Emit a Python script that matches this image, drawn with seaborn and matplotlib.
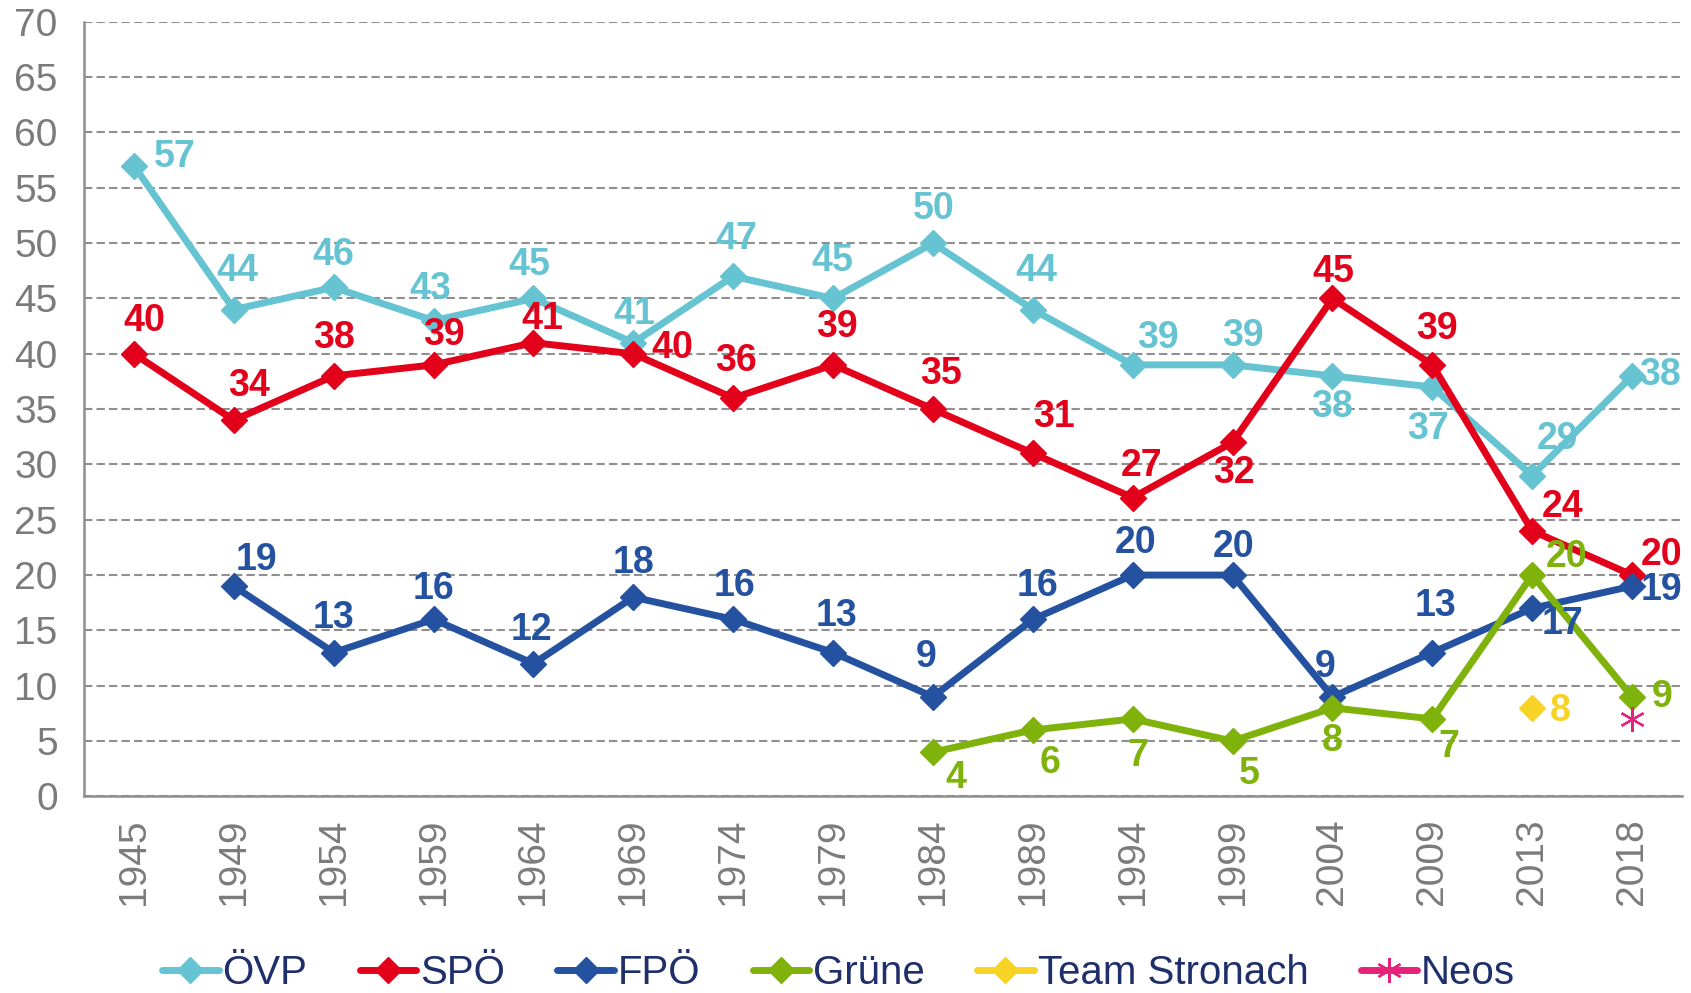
import numpy as np
import pandas as pd
import matplotlib
matplotlib.use("Agg")
import matplotlib.pyplot as plt
from matplotlib.ticker import FixedLocator, MultipleLocator
import seaborn as sns

# --- Daten (Nationalratswahlen, Stimmenanteile in %) ---
jahre = ["1945", "1949", "1954", "1959", "1964", "1969", "1974", "1979",
         "1984", "1989", "1994", "1999", "2004", "2009", "2013", "2018"]
oevp = [57, 44, 46, 43, 45, 41, 47, 45, 50, 44, 39, 39, 38, 37, 29, 38]
spoe = [40, 34, 38, 39, 41, 40, 36, 39, 35, 31, 27, 32, 45, 39, 24, 20]
fpoe = [np.nan, 19, 13, 16, 12, 18, 16, 13, 9, 16, 20, 20, 9, 13, 17, 19]
gruene = [np.nan] * 8 + [4, 6, 7, 5, 8, 7, 20, 9]
stronach = [np.nan] * 14 + [8, np.nan]
neos = [np.nan] * 15 + [7]

parteien = ["ÖVP", "SPÖ", "FPÖ", "Grüne", "Team Stronach", "Neos"]
werte = [oevp, spoe, fpoe, gruene, stronach, neos]
farben = ["#66C4D2", "#E2001A", "#2452A0", "#80B20C", "#F7D325", "#E5237A"]

# Label-Versatz (px in Referenzansicht, dy nach unten positiv)
versatz = {
    "ÖVP": [(38, -8), (3, -36), (0, -30), (-3, -29), (-4, -31), (1, -27), (3, -35), (-1, -35),
            (1, -32), (3, -36), (23, -25), (10, -27), (0, 29), (-4, 39), (23, -34), (26, -1)],
    "SPÖ": [(10, -30), (14, -32), (0, -35), (10, -28), (8, -22), (36, -5), (3, -34), (4, -35),
            (7, -33), (20, -34), (8, -29), (1, 28), (1, -25), (4, -33), (28, -22), (27, -19)],
    "FPÖ": [None, (21, -24), (0, -32), (0, -28), (-2, -31), (0, -32), (1, -31), (3, -34),
            (-6, -37), (4, -31), (3, -30), (1, -26), (-7, -28), (3, -43), (28, 15), (27, 4)],
    "Grüne": [None] * 8 + [(21, 24), (16, 31), (5, 34), (15, 31), (0, 31), (15, 26), (32, -17), (28, 0)],
    "Team Stronach": [None] * 14 + [(26, 3), None],
}
SKALA = 1691 / 1568

sns.set_style("white")
plt.rcParams["font.family"] = ["Liberation Sans", "DejaVu Sans"]
schmal = ["Liberation Sans Narrow", "Liberation Sans", "DejaVu Sans"]

fig = plt.figure(figsize=(16.91, 9.93), dpi=100)
ax = fig.add_axes([0.0497, 0.198, 0.945, 0.780])

x = np.arange(len(jahre))
for partei, y, farbe in zip(parteien, werte, farben):
    if partei == "Neos":
        sns.lineplot(x=x, y=y, ax=ax, color=farbe, marker=(6, 2, 0), markersize=18,
                     markeredgewidth=1.6, markeredgecolor=farbe, linewidth=5, label=partei)
    else:
        sns.lineplot(x=x, y=y, ax=ax, color=farbe, marker="D", markersize=13,
                     markeredgewidth=1, markeredgecolor=farbe, linewidth=5, label=partei)

# Datenbeschriftungen
for partei, y, farbe in zip(parteien, werte, farben):
    if partei not in versatz:
        continue
    for i, v in enumerate(y):
        off = versatz[partei][i]
        if off is None or np.isnan(v):
            continue
        ax.annotate(f"{int(v)}", (x[i], v), xytext=(off[0] * SKALA, -off[1] * SKALA),
                    textcoords="offset pixels", ha="center", va="center",
                    fontsize=27, fontweight="bold", color=farbe, family=schmal)

ax.set_xlim(-0.5, len(jahre) - 0.5)
ax.set_ylim(0, 70)
ax.yaxis.set_major_locator(MultipleLocator(5))
ax.grid(axis="y", color="#8f8f8f", linestyle=(0, (4, 2)), linewidth=1.5)
ax.set_axisbelow(True)

ax.set_xticks(x)
ax.set_xticklabels(jahre, rotation=90)
ax.xaxis.set_minor_locator(FixedLocator(np.arange(-0.5, len(jahre), 1.0)))
ax.tick_params(axis="x", which="major", length=0, pad=16, labelsize=28, labelcolor="#7b7b7b")
ax.tick_params(axis="x", which="minor", length=8, width=1.8, color="#8f8f8f", direction="out")
ax.tick_params(axis="y", which="major", length=9, width=1.8, color="#8f8f8f", direction="out",
               pad=10, labelsize=28, labelcolor="#7b7b7b")
ax.set_xlabel("")
ax.set_ylabel("")

for s in ["top", "right"]:
    ax.spines[s].set_visible(False)
for s in ["left", "bottom"]:
    ax.spines[s].set_color("#8f8f8f")
    ax.spines[s].set_linewidth(1.8)

handles, labels = ax.get_legend_handles_labels()
ax.get_legend().remove()
fig.legend(handles, labels, loc="center", bbox_to_anchor=(0.496, 0.02), ncol=6,
           frameon=False, handlelength=1.4, handletextpad=0.1, columnspacing=1.3,
           numpoints=1, prop={"family": schmal, "size": 29}, labelcolor="#1F2F6B")

fig.savefig("out.png", dpi=100)
